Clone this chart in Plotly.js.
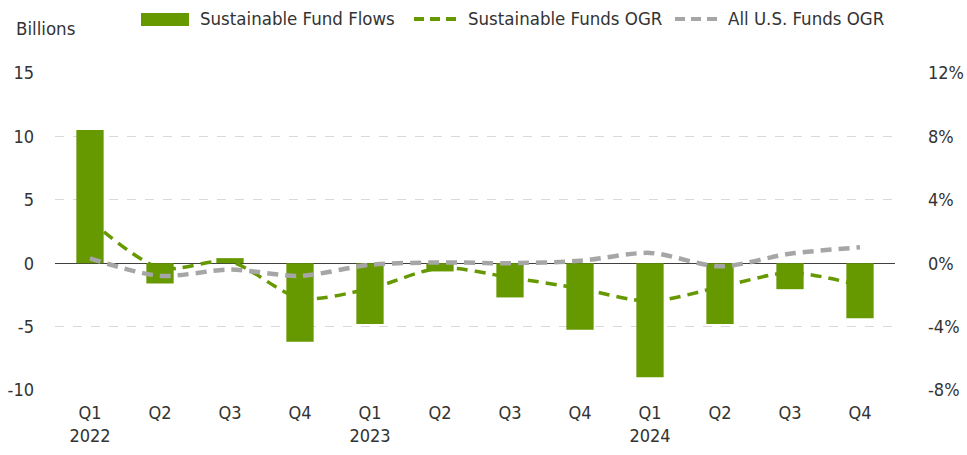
<!DOCTYPE html>
<html>
<head>
<meta charset="utf-8">
<script src="https://cdn.plot.ly/plotly-3.0.1.min.js"></script>
<style>
  html, body { margin: 0; padding: 0; background: #fff; }
  #chart { width: 967px; height: 455px; }
</style>
</head>
<body>
<div id="chart"></div>
<script>
// ---- Data ----
const quarters = ['Q1','Q2','Q3','Q4','Q1','Q2','Q3','Q4','Q1','Q2','Q3','Q4'];
const years    = ['2022','','','','2023','','','','2024','','',''];
const sustainableFundFlows = [10.5, -1.6, 0.4, -6.2, -4.8, -0.65, -2.7, -5.25, -9.0, -4.8, -2.05, -4.35]; // billions USD
const sustainableFundsOGR  = [2.7, -0.3, 0.1, -2.2, -1.6, -0.3, -0.9, -1.6, -2.4, -1.5, -0.6, -1.4];    // %
const allUSFundsOGR        = [0.3, -0.8, -0.4, -0.8, -0.1, 0.05, 0.0, 0.15, 0.65, -0.2, 0.6, 1.0];      // %
const seriesNames = ['Sustainable Fund Flows', 'Sustainable Funds OGR', 'All U.S. Funds OGR'];
const leftTickVals  = [-10, -5, 0, 5, 10, 15];
const leftTickText  = ['-10', '-5', '0', '5', '10', '15'];
const rightTickVals = [-8, -4, 0, 4, 8, 12];
const rightTickText = ['-8%', '-4%', '0%', '4%', '8%', '12%'];

const GREEN = '#669900';
const GRAY = '#a6a6a6';
const TEXT = '#333333';
const FONT = '"Liberation Sans Narrow", "DejaVu Sans Condensed", sans-serif';

const xIdx = quarters.map((q, i) => i);
const tickText = quarters.map((q, i) => years[i] ? q + '<br>' + years[i] : q);

const traces = [
  {
    type: 'bar', x: xIdx, y: sustainableFundFlows, name: seriesNames[0],
    marker: { color: GREEN, line: { width: 0 } }, yaxis: 'y', hoverinfo: 'skip'
  },
  {
    type: 'scatter', mode: 'lines', x: xIdx, y: sustainableFundsOGR, name: seriesNames[1],
    line: { color: GREEN, width: 3.5, dash: '11px,7px', shape: 'spline', smoothing: 0.8 },
    yaxis: 'y2', hoverinfo: 'skip'
  },
  {
    type: 'scatter', mode: 'lines', x: xIdx, y: allUSFundsOGR, name: seriesNames[2],
    line: { color: GRAY, width: 4.5, dash: '11px,7px', shape: 'spline', smoothing: 0.8 },
    yaxis: 'y2', hoverinfo: 'skip'
  }
];

// Plot-area geometry helpers for the custom legend (paper coordinates)
const L = 55, R = 72, T = 73, B = 65, W = 967, H = 455;
const pw = W - L - R, ph = H - T - B;
const px = p => (p - L) / pw;
const py = p => (H - B - p) / ph;

const legendY = 19;
const shapes = [
  { type: 'rect', xref: 'paper', yref: 'paper', x0: px(141), x1: px(189), y0: py(26), y1: py(13),
    fillcolor: GREEN, line: { width: 0 } },
  { type: 'line', xref: 'paper', yref: 'paper', x0: px(414), x1: px(458), y0: py(legendY), y1: py(legendY),
    line: { color: GREEN, width: 4, dash: '10px,6px' } },
  { type: 'line', xref: 'paper', yref: 'paper', x0: px(675), x1: px(718), y0: py(legendY), y1: py(legendY),
    line: { color: GRAY, width: 4, dash: '10px,6px' } }
];

const annFont = { family: FONT, size: 18.5, color: TEXT };
const annotations = [
  { xref: 'paper', yref: 'paper', x: px(198), y: py(legendY), xanchor: 'left', yanchor: 'middle',
    text: seriesNames[0], showarrow: false, font: annFont },
  { xref: 'paper', yref: 'paper', x: px(466), y: py(legendY), xanchor: 'left', yanchor: 'middle',
    text: seriesNames[1], showarrow: false, font: annFont },
  { xref: 'paper', yref: 'paper', x: px(726), y: py(legendY), xanchor: 'left', yanchor: 'middle',
    text: seriesNames[2], showarrow: false, font: annFont },
  { xref: 'paper', yref: 'paper', x: px(14), y: py(29), xanchor: 'left', yanchor: 'middle',
    text: 'Billions', showarrow: false, font: { family: FONT, size: 18.5, color: TEXT } }
];

const tickFont = { family: FONT, size: 18, color: TEXT };
const layout = {
  width: W, height: H,
  margin: { l: L, r: R, t: T, b: B, pad: 0 },
  paper_bgcolor: '#ffffff', plot_bgcolor: '#ffffff',
  font: { family: FONT, size: 18, color: TEXT },
  showlegend: false,
  bargap: 0.61,
  xaxis: {
    range: [-0.5, 11.5], tickmode: 'array', tickvals: xIdx, ticktext: tickText,
    showgrid: false, zeroline: false, showline: false, ticks: '',
    ticklabelstandoff: 10, tickfont: tickFont, fixedrange: true
  },
  yaxis: {
    range: [-10, 15], tickmode: 'array', tickvals: leftTickVals, ticktext: leftTickText,
    showgrid: true, gridcolor: '#d9d9d9', griddash: 'dash', gridwidth: 1,
    zeroline: true, zerolinecolor: '#404040', zerolinewidth: 1, showline: false, ticks: '',
    ticklabelstandoff: 20, tickfont: tickFont, fixedrange: true
  },
  yaxis2: {
    overlaying: 'y', side: 'right', range: [-8, 12], tickmode: 'array', tickvals: rightTickVals, ticktext: rightTickText,
    showgrid: false, zeroline: false, showline: false, ticks: '',
    ticklabelstandoff: 32, tickfont: tickFont, fixedrange: true
  },
  shapes: shapes,
  annotations: annotations
};

Plotly.newPlot('chart', traces, layout, { displayModeBar: false, staticPlot: true });
</script>
</body>
</html>
